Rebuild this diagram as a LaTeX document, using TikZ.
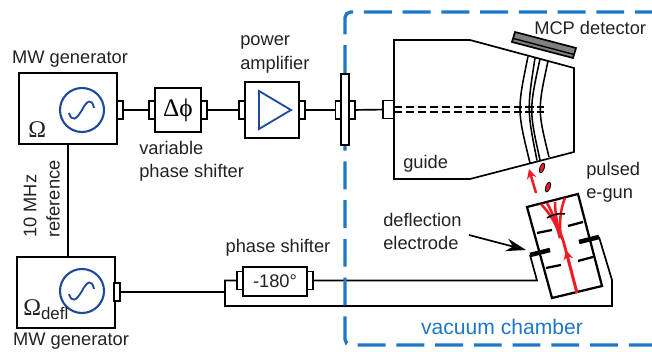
\documentclass[tikz,border=0pt]{standalone}
\usepackage{fontspec}
\usepackage{tikz}
\usetikzlibrary{arrows.meta}
\usetikzlibrary{shapes.geometric}
\setmainfont{Liberation Sans}
\newfontfamily\greekfont{Liberation Serif}
\definecolor{chamberblue}{HTML}{1F78C4}
\definecolor{sineblue}{HTML}{1F4A9C}
\definecolor{beamred}{HTML}{EE1C25}
\definecolor{inkgray}{HTML}{222222}
\tikzset{
 txt/.style={font=\fontsize{13}{16.4}\selectfont, text=inkgray, inner sep=0pt},
 box/.style={draw, line width=1.2pt, fill=white, inner sep=0pt},
 port/.style={box, minimum width=.15cm, minimum height=.45cm},
 wire/.style={line width=1.2pt},
 sine/.style={sineblue, line width=1.3pt},
 gun/.style={line width=1.6pt},
 plate/.style={line width=3.2pt},
 beam/.style={beamred, line width=1.8pt},
 bunch/.style={draw, fill=beamred, line width=.6pt, ellipse, minimum width=.11cm, minimum height=.26cm, inner sep=0pt},
}
\begin{document}
\begin{tikzpicture}[x=.025cm, y=-.025cm]
%\draw[help lines] (0,0) grid (652,352);
\useasboundingbox (0,0) rectangle (652,352);

 % top row
 \node[box, minimum width=2.45cm, minimum height=1.775cm] (mwtop) at (68,108.5) {};
 \node[box, minimum width=1.15cm, minimum height=1.1cm, font=\greekfont\fontsize{18}{18}\selectfont] (varbox) at (178,110) {Δϕ};
 \node[box, minimum width=1.35cm, minimum height=1.4cm] (ampbox) at (272,110) {};
 \node[port] (mwtopout) at (120,110) {};
 \node[port] (varin) at (152,110) {};
 \node[port] (varout) at (204,110) {};
 \node[port] (ampin) at (242,110) {};
 \node[port] (ampout) at (302,110) {};
 \node[port] (flangein) at (338.5,110) {};
 \node[port] (flangeout) at (352,110) {};
 \node[port, minimum width=.275cm] (guidein) at (388.5,109.5) {};

 % bottom row
 \node[box, minimum width=2.45cm, minimum height=1.775cm] (mwbot) at (66,292.5) {};
 \node[port] (mwbotout) at (117,292) {};
 \node[box, minimum width=1.6cm, minimum height=.725cm, txt] (shifter) at (275,281.5) {-180°};
 \node[port] (shifterin) at (240,280.5) {};
 \node[port] (shifterout) at (310,280.5) {};

 \coordinate (split) at (225,292);
 \coordinate (wirecorner) at (225,306);
 \coordinate (wirebase) at (612,306);
 \coordinate (wireup) at (612,280);
 \coordinate (plateright) at (599,237);
 \coordinate (wireturn) at (537,280.5);
 \coordinate (plateleft) at (530,255);

 \draw[wire] (mwtopout) -- (varin);
 \draw[wire] (varout) -- (ampin);
 \draw[wire] (ampout) -- (flangein);
 \draw[wire] (flangeout) -- (guidein);
 \draw[wire] (mwtop.south) -- (mwtop.south |- mwbot.north);
 \draw[wire] (mwbotout) -- (split);
 \draw[wire] (shifterin) -| (wirecorner) -- (wirebase) -- (wireup) -- (plateright);
 \draw[wire] (shifterout) -- (wireturn) -- (plateleft);

 % vacuum chamber
 \draw[chamberblue, line width=2.4pt, rounded corners=4pt, dash pattern=on 19.84pt off 7.7pt, dash phase=7.8pt]
  (652,12) -- (345,12) -- (345,345) -- (652,345);
 \node[box, minimum width=.2cm, minimum height=1.775cm] (flange) at (345,109.5) {};

 % oscillators
 \begin{scope}[shift={(82,110)}]
 \node[draw=sineblue, line width=1.5pt, circle, minimum size=1.1cm, inner sep=0pt] (osctop) at (0,0) {};
 \draw[sine] (-13,3) .. controls (-10,12) and (-6,10) .. (0,0) .. controls (5,-10) and (10,-12) .. (12,-2);
 \end{scope}
 \begin{scope}[shift={(82,291)}]
 \node[draw=sineblue, line width=1.5pt, circle, minimum size=1.1cm, inner sep=0pt] (oscbot) at (0,0) {};
 \draw[sine] (-13,3) .. controls (-10,12) and (-6,10) .. (0,0) .. controls (5,-10) and (10,-12) .. (12,-2);
 \end{scope}
 \draw[sine] (259,91) -- (291,110) -- (259,129) -- cycle;

 % guide
 \draw[line width=1.2pt] (394,40) -- (470,40) -- (574,68) -- (574,152) -- (470,179) -- (394,179) -- cycle;
 \draw[line width=1.2pt, dash pattern=on 6pt off 2.5pt] (394,107) -- (544,107);
 \draw[line width=1.2pt, dash pattern=on 6pt off 2.5pt] (394,112) -- (544,112);
 \draw[line width=1.1pt] (528,56.5) .. controls (517,110) .. (530,163);
 \draw[line width=1.1pt] (535,58) .. controls (527,110) .. (537,160.5);
 \draw[line width=1.1pt] (540,59) .. controls (529,110) .. (540,160);
 \draw[line width=1.1pt] (548,61) .. controls (537.5,110) .. (549,157);

 % detector
 \draw[fill=gray, line width=1.2pt] (515,32) -- (576,48) -- (573,58) -- (512,42) -- cycle;
 \draw[line width=1pt] (513.5,38.5) -- (574,54.5);

 % e-gun
 \draw[gun] (527,207) -- (578,194) -- (602,286) -- (552,298) -- cycle;
 \draw[gun] (537,233) -- (552,230);
 \draw[gun] (546,268) -- (561,265);
 \draw[gun] (568,226) -- (583,222);
 \draw[gun] (578,261) -- (593,257);
 \draw[plate] (530,255) -- (550,250);
 \draw[plate] (579,242) -- (599,237);

 % beam
 \draw[beam, line width=2pt] (577,293) -- (563,240) -- (560,232);
 \draw[beam, -{Stealth[length=.24cm, width=.24cm]}] (577,293) -- (566,250);
 \draw[beam] (560,238) .. controls (557,224) and (550,214) .. (541,204);
 \draw[beam] (560,238) .. controls (557,224) and (553,214) .. (547,203);
 \draw[beam] (561,238) .. controls (557,224) and (555,212) .. (555,202);
 \draw[beam] (561,238) .. controls (559,224) and (560,210) .. (565,198);
 \draw[gun, line width=1.1pt] (547,218) .. controls (553,214) and (560,213) .. (565,214);
 \coordinate (exitstart) at (536,193);
 \coordinate (exitend) at (529,169);
 \draw[beam, -{Stealth[length=.24cm, width=.24cm]}] (exitstart) -- (exitend);
 \node[bunch, rotate=-20] (bunchone) at (542,168) {};
 \node[bunch, rotate=-20] (bunchtwo) at (548,187) {};

 % labels
 \node[txt] (mwtoplabel) at (70,59) {MW generator};
 \node[txt] (mwbotlabel) at (71,341) {MW generator};
 \node[txt, anchor=west, align=left] (varlabel) at (139,161.5) {variable\\phase shifter};
 \node[txt, anchor=west, align=left] (amplabel) at (240,54.5) {power\\amplifier};
 \node[txt] (shifterlabel) at (278,248) {phase shifter};
 \node[txt, rotate=90, anchor=west] (mhzlabel) at (30,238) {10 MHz};
 \node[txt, rotate=90, anchor=west] (reflabel) at (53,238) {reference};
 \node[txt, anchor=west] (guidelabel) at (403,164) {guide};
 \node[txt, anchor=west] (mcplabel) at (534,28) {MCP detector};
 \node[txt, anchor=west, align=left] (gunlabel) at (586,182.5) {pulsed\\e-gun};
 \node[txt, anchor=west, align=left] (deflabel) at (383,231.5) {deflection\\electrode};
 \node[txt, text=chamberblue, font=\fontsize{15}{16}\selectfont] (chamberlabel) at (502,327) {vacuum chamber};
 \node[txt, anchor=west, font=\greekfont\fontsize{17}{17}\selectfont] (omegatop) at (28,130) {Ω};
 \node[txt, anchor=base west] (omegabot) at (23,316) {{\greekfont\fontsize{17}{17}\selectfont Ω}\raisebox{-.35ex}{\fontsize{12}{12}\selectfont defl}};

 \coordinate (deflstart) at (469,235);
 \coordinate (deflend) at (526,250);
 \draw[line width=1.2pt, -{Stealth[length=.5cm, width=.32cm]}] (deflstart) -- (deflend);

\end{tikzpicture}
\end{document}
